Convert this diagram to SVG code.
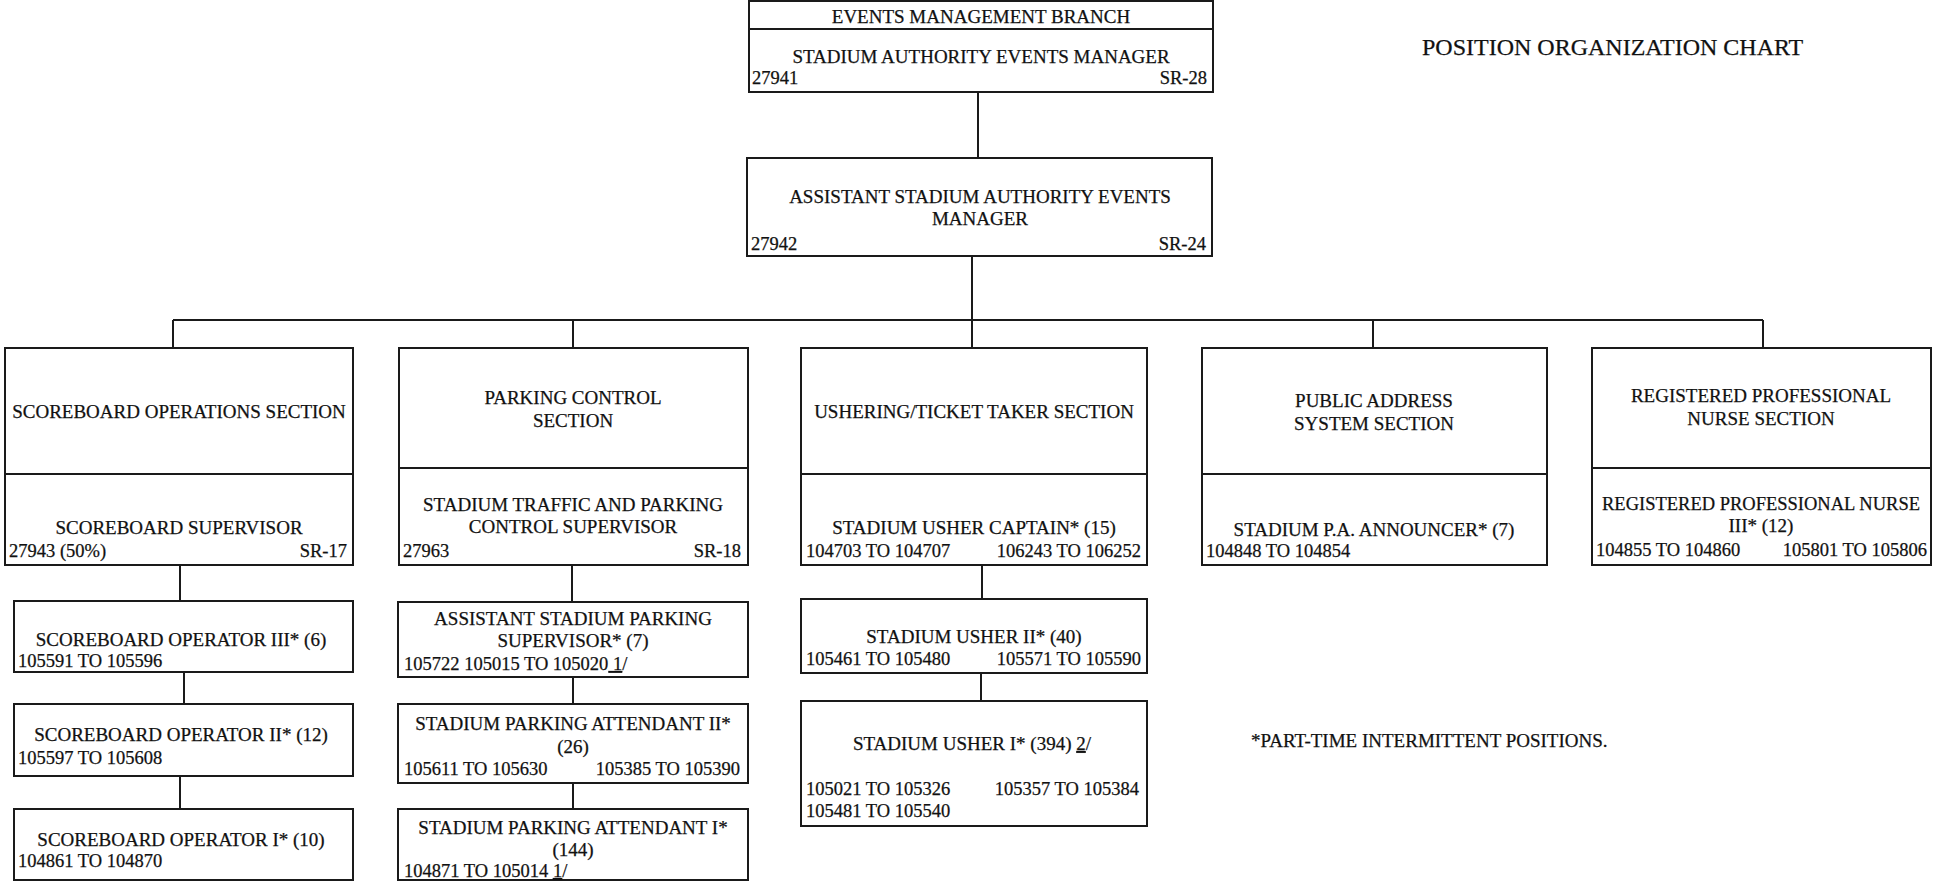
<svg xmlns="http://www.w3.org/2000/svg" width="1933" height="881" viewBox="0 0 1933 881">
<style>
.b{fill:#fff;stroke:#1a1a1a;stroke-width:2}
.d{stroke:#1a1a1a;stroke-width:2}
.c{stroke:#1a1a1a;stroke-width:2;fill:none}
text{font-family:"Liberation Serif","Times New Roman",serif;font-size:19px;fill:#111;stroke:#111;stroke-width:0.25}
.m{text-anchor:middle}
.e{text-anchor:end}
.n{font-size:18.5px}
.t{font-size:24px}
.u{text-decoration:underline}
</style>
<rect width="1933" height="881" fill="#fff"/>
<g id="connectors">
<path class="c" d="M978 92V158M972 256V348M173 320H1763M173 320V348M573 320V348M1373 320V348M1763 320V348"/>
<path class="c" d="M180 565V601M184 672V704M180 776V809"/>
<path class="c" d="M572 565V602M573 677V704M573 783V809"/>
<path class="c" d="M982 565V599M981 673V701"/>
</g>
<g id="branch">
<rect class="b" x="749" y="1" width="464" height="91"/>
<line class="d" x1="749" y1="29" x2="1213" y2="29"/>
<text class="m" x="981" y="23">EVENTS MANAGEMENT BRANCH</text>
<text class="m" x="981" y="63">STADIUM AUTHORITY EVENTS MANAGER</text>
<text class="n" x="752" y="84">27941</text>
<text class="n e" x="1207" y="84">SR-28</text>
</g>
<g id="assistant">
<rect class="b" x="747" y="158" width="465" height="98"/>
<text class="m" x="980" y="203">ASSISTANT STADIUM AUTHORITY EVENTS</text>
<text class="m" x="980" y="225">MANAGER</text>
<text class="n" x="751" y="250">27942</text>
<text class="n e" x="1206" y="250">SR-24</text>
</g>
<g id="sec-scoreboard">
<rect class="b" x="5" y="348" width="348" height="217"/>
<line class="d" x1="5" y1="474" x2="353" y2="474"/>
<text class="m" x="179" y="418">SCOREBOARD OPERATIONS SECTION</text>
<text class="m" x="179" y="534">SCOREBOARD SUPERVISOR</text>
<text class="n" x="9" y="557">27943 (50%)</text>
<text class="n e" x="347" y="557">SR-17</text>
</g>
<g id="sec-parking">
<rect class="b" x="399" y="348" width="349" height="217"/>
<line class="d" x1="399" y1="468" x2="748" y2="468"/>
<text class="m" x="573" y="404">PARKING CONTROL</text>
<text class="m" x="573" y="427">SECTION</text>
<text class="m" x="573" y="511">STADIUM TRAFFIC AND PARKING</text>
<text class="m" x="573" y="533">CONTROL SUPERVISOR</text>
<text class="n" x="403" y="557">27963</text>
<text class="n e" x="741" y="557">SR-18</text>
</g>
<g id="sec-ushering">
<rect class="b" x="801" y="348" width="346" height="217"/>
<line class="d" x1="801" y1="474" x2="1147" y2="474"/>
<text class="m" x="974" y="418">USHERING/TICKET TAKER SECTION</text>
<text class="m" x="974" y="534">STADIUM USHER CAPTAIN* (15)</text>
<text class="n" x="806" y="557">104703 TO 104707</text>
<text class="n e" x="1141" y="557">106243 TO 106252</text>
</g>
<g id="sec-pa">
<rect class="b" x="1202" y="348" width="345" height="217"/>
<line class="d" x1="1202" y1="474" x2="1547" y2="474"/>
<text class="m" x="1374" y="407">PUBLIC ADDRESS</text>
<text class="m" x="1374" y="430">SYSTEM SECTION</text>
<text class="m" x="1374" y="536">STADIUM P.A. ANNOUNCER* (7)</text>
<text class="n" x="1206" y="557">104848 TO 104854</text>
</g>
<g id="sec-nurse">
<rect class="b" x="1592" y="348" width="339" height="217"/>
<line class="d" x1="1592" y1="468" x2="1931" y2="468"/>
<text class="m" x="1761" y="402">REGISTERED PROFESSIONAL</text>
<text class="m" x="1761" y="425">NURSE SECTION</text>
<text class="m" x="1761" y="510" textLength="318" lengthAdjust="spacingAndGlyphs">REGISTERED PROFESSIONAL NURSE</text>
<text class="m" x="1761" y="532">III*  (12)</text>
<text class="n" x="1596" y="556">104855 TO 104860</text>
<text class="n e" x="1927" y="556">105801 TO 105806</text>
</g>
<g id="scoreboard-op3">
<rect class="b" x="14" y="601" width="339" height="71"/>
<text class="m" x="181" y="646">SCOREBOARD OPERATOR III* (6)</text>
<text class="n" x="18" y="667">105591 TO 105596</text>
</g>
<g id="scoreboard-op2">
<rect class="b" x="14" y="704" width="339" height="72"/>
<text class="m" x="181" y="741">SCOREBOARD OPERATOR II* (12)</text>
<text class="n" x="18" y="764">105597 TO 105608</text>
</g>
<g id="scoreboard-op1">
<rect class="b" x="14" y="809" width="339" height="71"/>
<text class="m" x="181" y="846">SCOREBOARD OPERATOR I* (10)</text>
<text class="n" x="18" y="867">104861 TO 104870</text>
</g>
<g id="parking-asst">
<rect class="b" x="398" y="602" width="350" height="75"/>
<text class="m" x="573" y="625">ASSISTANT STADIUM PARKING</text>
<text class="m" x="573" y="647">SUPERVISOR*  (7)</text>
<text class="n" x="404" y="670">105722  105015 TO 105020<tspan class="u"> 1</tspan>/</text>
</g>
<g id="parking-att2">
<rect class="b" x="398" y="704" width="350" height="79"/>
<text class="m" x="573" y="730">STADIUM PARKING ATTENDANT II*</text>
<text class="m" x="573" y="753">(26)</text>
<text class="n" x="404" y="775">105611 TO 105630</text>
<text class="n e" x="740" y="775">105385 TO 105390</text>
</g>
<g id="parking-att1">
<rect class="b" x="398" y="809" width="350" height="71"/>
<text class="m" x="573" y="834">STADIUM PARKING ATTENDANT I*</text>
<text class="m" x="573" y="856">(144)</text>
<text class="n" x="404" y="877">104871 TO 105014 <tspan class="u">1</tspan>/</text>
</g>
<g id="usher2">
<rect class="b" x="801" y="599" width="346" height="74"/>
<text class="m" x="974" y="643">STADIUM USHER II* (40)</text>
<text class="n" x="806" y="665">105461 TO 105480</text>
<text class="n e" x="1141" y="665">105571 TO 105590</text>
</g>
<g id="usher1">
<rect class="b" x="801" y="701" width="346" height="125"/>
<text class="m" x="972" y="750">STADIUM USHER I* (394)  <tspan class="u">2</tspan>/</text>
<text class="n" x="806" y="795">105021 TO 105326</text>
<text class="n e" x="1139" y="795">105357 TO 105384</text>
<text class="n" x="806" y="817">105481 TO 105540</text>
</g>
<g id="title">
<text class="t" x="1422" y="55">POSITION ORGANIZATION CHART</text>
</g>
<g id="footnote">
<text x="1251" y="747">*PART-TIME INTERMITTENT POSITIONS.</text>
</g>
</svg>
